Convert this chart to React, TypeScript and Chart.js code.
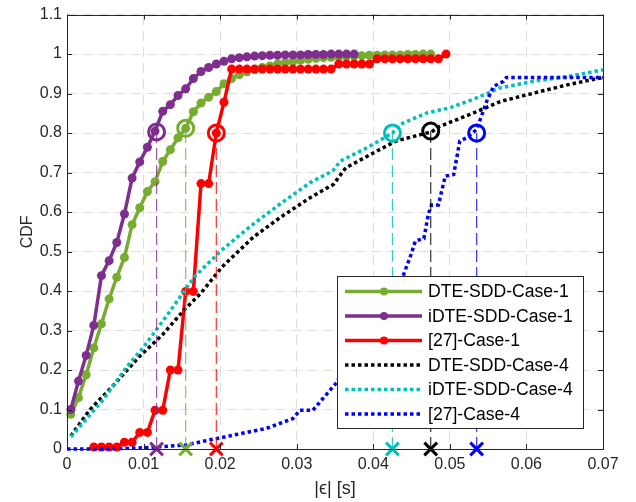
import React, { useEffect, useRef } from 'react';
import { Chart, registerables } from 'chart.js';

Chart.register(...registerables);

// ---------- data ----------
const seriesLabels = [
  'DTE-SDD-Case-1',
  'iDTE-SDD-Case-1',
  '[27]-Case-1',
  'DTE-SDD-Case-4',
  'iDTE-SDD-Case-4',
  '[27]-Case-4',
];
const seriesColors = ['#77AC30', '#7E2F8E', '#FF0000', '#000000', '#00BFBF', '#0000FF'];

const dteCase1X = [
  0.0005, 0.0015, 0.0025, 0.0035, 0.0045, 0.0055, 0.0065, 0.0075, 0.0085, 0.0095,
  0.0105, 0.0115, 0.0125, 0.0135, 0.0145, 0.0155, 0.0165, 0.0175, 0.0185, 0.0195,
  0.0205, 0.0215, 0.0225, 0.0235, 0.0245, 0.0255, 0.0265, 0.0275, 0.0285, 0.0295,
  0.0305, 0.0315, 0.0325, 0.0335, 0.0345, 0.0355, 0.0365, 0.0375, 0.0385, 0.0395,
  0.0405, 0.0415, 0.0425, 0.0435, 0.0445, 0.0455, 0.0465, 0.0475,
];
const dteCase1Y = [
  0.088, 0.130, 0.188, 0.256, 0.317, 0.380, 0.435, 0.485, 0.568, 0.611,
  0.652, 0.677, 0.728, 0.758, 0.788, 0.812, 0.854, 0.876, 0.891, 0.905,
  0.925, 0.938, 0.948, 0.955, 0.961, 0.966, 0.970, 0.975, 0.979, 0.982,
  0.985, 0.987, 0.989, 0.991, 0.992, 0.993, 0.994, 0.995, 0.996, 0.997,
  0.997, 0.998, 0.998, 0.998, 0.999, 0.999, 1.0, 1.0,
];

const idteCase1X = [
  0.0005, 0.0015, 0.0025, 0.0035, 0.0045, 0.0055, 0.0065, 0.0075, 0.0085, 0.0095,
  0.0105, 0.0115, 0.0125, 0.0135, 0.0145, 0.0155, 0.0165, 0.0175, 0.0185, 0.0195,
  0.0205, 0.0215, 0.0225, 0.0235, 0.0245, 0.0255, 0.0265, 0.0275, 0.0285, 0.0295,
  0.0305, 0.0315, 0.0325, 0.0335, 0.0345, 0.0355, 0.0365, 0.0375,
];
const idteCase1Y = [
  0.100, 0.172, 0.237, 0.313, 0.439, 0.477, 0.523, 0.595, 0.686, 0.727,
  0.764, 0.805, 0.855, 0.872, 0.895, 0.912, 0.938, 0.956, 0.966, 0.975,
  0.982, 0.988, 0.991, 0.993, 0.995, 0.996, 0.997, 0.997, 0.998, 0.998,
  0.998, 0.999, 0.999, 0.999, 1.0, 1.0, 1.0, 1.0,
];

const refCase1X = [
  0.0035, 0.0045, 0.0055, 0.0065, 0.0075, 0.0085, 0.0095, 0.0105, 0.0115, 0.0125,
  0.0135, 0.0145, 0.0155, 0.0165, 0.0175, 0.0185, 0.0195, 0.0205, 0.0215, 0.0225,
  0.0235, 0.0245, 0.0255, 0.0265, 0.0275, 0.0285, 0.0295, 0.0305, 0.0315, 0.0325,
  0.0335, 0.0345, 0.0355, 0.0365, 0.0375, 0.0385, 0.0395, 0.0405, 0.0415, 0.0425,
  0.0435, 0.0445, 0.0455, 0.0465, 0.0475, 0.0485, 0.0495,
];
const refCase1Y = [
  0.005, 0.005, 0.005, 0.005, 0.017, 0.017, 0.042, 0.042, 0.098, 0.098,
  0.200, 0.200, 0.399, 0.399, 0.672, 0.672, 0.800, 0.878, 0.962, 0.962,
  0.962, 0.962, 0.962, 0.962, 0.962, 0.962, 0.962, 0.962, 0.962, 0.962,
  0.962, 0.962, 0.975, 0.975, 0.975, 0.975, 0.975, 0.988, 0.988, 0.988,
  0.988, 0.988, 0.988, 0.988, 0.988, 0.988, 1.0,
];

const dteCase4X = [
  0.0005, 0.003, 0.006, 0.0095, 0.0125, 0.0152, 0.0175, 0.0202, 0.0243, 0.0279,
  0.0318, 0.0348, 0.0364, 0.0413, 0.043, 0.0476, 0.0487, 0.0531, 0.0566, 0.0609,
  0.0653, 0.07,
];
const dteCase4Y = [
  0.033, 0.100, 0.160, 0.235, 0.290, 0.350, 0.395, 0.460, 0.536, 0.587,
  0.637, 0.670, 0.712, 0.763, 0.780, 0.803, 0.817, 0.851, 0.880, 0.901,
  0.922, 0.941,
];

const idteCase4X = [
  0.0005, 0.0025, 0.0047, 0.0078, 0.01, 0.0133, 0.0166, 0.02, 0.0222, 0.0243,
  0.0278, 0.0317, 0.0347, 0.0357, 0.0392, 0.0425, 0.0435, 0.047, 0.05, 0.053,
  0.0565, 0.0609, 0.0653, 0.07,
];
const idteCase4Y = [
  0.031, 0.075, 0.124, 0.208, 0.258, 0.345, 0.435, 0.500, 0.536, 0.569,
  0.620, 0.674, 0.704, 0.729, 0.763, 0.800, 0.822, 0.851, 0.864, 0.885,
  0.914, 0.931, 0.943, 0.960,
];

const refCase4X = [
  0, 0.005, 0.01, 0.0155, 0.0174, 0.0217, 0.026, 0.0295, 0.0304, 0.0321,
  0.0352, 0.039, 0.0431, 0.0439, 0.0448, 0.0455, 0.0466, 0.0472, 0.0476, 0.0485,
  0.0494, 0.0505, 0.0513, 0.0522, 0.0535, 0.0548, 0.0557, 0.057, 0.0574, 0.07,
];
const refCase4Y = [
  0, 0.0, 0.003, 0.010, 0.018, 0.035, 0.052, 0.077, 0.098, 0.098,
  0.168, 0.300, 0.420, 0.439, 0.485, 0.527, 0.533, 0.595, 0.618, 0.618,
  0.691, 0.695, 0.780, 0.788, 0.809, 0.880, 0.918, 0.931, 0.941, 0.941,
];

// 80th-percentile markers (x position, circle level) per series
const markerX = [0.0155, 0.0117, 0.0195, 0.0475, 0.0425, 0.0535];
const markerY = [0.812, 0.803, 0.8, 0.805, 0.8, 0.8];

const xTicks = [0, 0.01, 0.02, 0.03, 0.04, 0.05, 0.06, 0.07];
const xTickLabels = ['0', '0.01', '0.02', '0.03', '0.04', '0.05', '0.06', '0.07'];
const yTicks = [0, 0.1, 0.2, 0.3, 0.4, 0.5, 0.6, 0.7, 0.8, 0.9, 1, 1.1];
const yTickLabels = ['0', '0.1', '0.2', '0.3', '0.4', '0.5', '0.6', '0.7', '0.8', '0.9', '1', '1.1'];

// ---------- styling ----------
const FONT = "'Liberation Sans', Arial, Helvetica, sans-serif";
const AXIS_COLOR = '#262626';
const DOT_DASH = [3.5, 3];

function withAlpha(hex: string, a: number) {
  const r = parseInt(hex.slice(1, 3), 16);
  const g = parseInt(hex.slice(3, 5), 16);
  const b = parseInt(hex.slice(5, 7), 16);
  return `rgba(${r},${g},${b},${a})`;
}

const boxPlugin = {
  id: 'matlabBox',
  afterDatasetsDraw(chart: any) {
    const { ctx, chartArea, scales } = chart;
    const { left, right, top, bottom } = chartArea;
    ctx.save();
    ctx.strokeStyle = AXIS_COLOR;
    ctx.lineWidth = 1;
    ctx.setLineDash([]);
    ctx.beginPath();
    const tl = 5;
    for (const v of xTicks) {
      const px = Math.round(scales.x.getPixelForValue(v)) + 0.5;
      ctx.moveTo(px, bottom);
      ctx.lineTo(px, bottom - tl);
      ctx.moveTo(px, top);
      ctx.lineTo(px, top + tl);
    }
    for (const v of yTicks) {
      const py = Math.round(scales.y.getPixelForValue(v)) + 0.5;
      ctx.moveTo(left, py);
      ctx.lineTo(left + tl, py);
      ctx.moveTo(right, py);
      ctx.lineTo(right - tl, py);
    }
    ctx.stroke();
    ctx.strokeRect(Math.round(left) + 0.5, Math.round(top) + 0.5, Math.round(right - left), Math.round(bottom - top));
    ctx.restore();
  },
};

const legendPlugin = {
  id: 'matlabLegend',
  afterDraw(chart: any) {
    const { ctx, chartArea } = chart;
    const w = 246;
    const h = 152;
    const right = chartArea.right - 20;
    const bottom = chartArea.bottom - 21;
    const left = right - w;
    const top = bottom - h;
    ctx.save();
    ctx.fillStyle = '#ffffff';
    ctx.fillRect(left, top, w, h);
    ctx.strokeStyle = AXIS_COLOR;
    ctx.lineWidth = 1;
    ctx.setLineDash([]);
    ctx.strokeRect(Math.round(left) + 0.5, Math.round(top) + 0.5, w, h);
    ctx.font = `17.6px ${FONT}`;
    ctx.textBaseline = 'middle';
    ctx.textAlign = 'left';
    for (let i = 0; i < seriesLabels.length; i++) {
      const cy = top + 15.5 + i * 24.5;
      const color = seriesColors[i];
      ctx.strokeStyle = color;
      ctx.lineCap = 'butt';
      if (i < 3) {
        ctx.lineWidth = 3.5;
        ctx.setLineDash([]);
      } else {
        ctx.lineWidth = 3.5;
        ctx.setLineDash(DOT_DASH);
      }
      ctx.beginPath();
      ctx.moveTo(left + 8, cy);
      ctx.lineTo(left + 85, cy);
      ctx.stroke();
      ctx.setLineDash([]);
      if (i < 3) {
        ctx.fillStyle = color;
        ctx.beginPath();
        ctx.arc(left + 47, cy, 4, 0, Math.PI * 2);
        ctx.fill();
      }
      ctx.fillStyle = '#000000';
      ctx.fillText(seriesLabels[i], left + 91, cy + 1);
    }
    ctx.restore();
  },
};

export default function App() {
  const canvasRef = useRef<HTMLCanvasElement | null>(null);

  useEffect(() => {
    document.body.style.margin = '0';
    const canvas = canvasRef.current;
    if (!canvas) return;

    const xs = [dteCase1X, idteCase1X, refCase1X, dteCase4X, idteCase4X, refCase4X];
    const ys = [dteCase1Y, idteCase1Y, refCase1Y, dteCase4Y, idteCase4Y, refCase4Y];

    const datasets: any[] = [];
    for (let i = 0; i < 6; i++) {
      const solid = i < 3;
      datasets.push({
        type: 'line',
        label: seriesLabels[i],
        data: xs[i].map((x, k) => ({ x, y: ys[i][k] })),
        borderColor: seriesColors[i],
        backgroundColor: seriesColors[i],
        borderWidth: 3.5,
        borderDash: solid ? [] : DOT_DASH,
        borderCapStyle: 'butt',
        pointRadius: solid ? 4.5 : 0,
        pointBorderWidth: 0,
        pointBackgroundColor: seriesColors[i],
        tension: 0,
        fill: false,
        clip: false,
        order: 100 - i,
      });
    }
    for (let i = 0; i < 6; i++) {
      datasets.push({
        type: 'line',
        label: '',
        data: [
          { x: markerX[i], y: 0 },
          { x: markerX[i], y: markerY[i] },
        ],
        borderColor: withAlpha(seriesColors[i], 0.8),
        borderWidth: 1.2,
        borderDash: [12, 5],
        pointStyle: ['crossRot', 'circle'],
        pointRadius: [9, 8],
        pointBorderWidth: [3, 3],
        pointBorderColor: seriesColors[i],
        pointBackgroundColor: 'rgba(0,0,0,0)',
        fill: false,
        clip: false,
        order: 10 - i,
      });
    }

    const chart = new Chart(canvas, {
      type: 'line',
      data: { datasets },
      options: {
        animation: false,
        responsive: false,
        devicePixelRatio: 1,
        events: [],
        layout: { padding: { top: 13, right: 33, left: 0, bottom: 0 } },
        plugins: {
          legend: { display: false },
          tooltip: { enabled: false },
        },
        scales: {
          x: {
            type: 'linear',
            min: 0,
            max: 0.07,
            afterFit: (s: any) => {
              s.height = 53;
            },
            afterBuildTicks: (s: any) => {
              s.ticks = xTicks.map((v) => ({ value: v }));
            },
            ticks: {
              callback: (_v: any, idx: number) => xTickLabels[idx],
              font: { family: FONT, size: 16 },
              color: AXIS_COLOR,
              padding: 6,
              maxRotation: 0,
              autoSkip: false,
            },
            grid: { color: '#dedede', lineWidth: 1, drawTicks: false },
            border: { display: false, dash: [10, 6] },
            title: {
              display: true,
              text: '|ϵ| [s]',
              font: { family: FONT, size: 18 },
              color: AXIS_COLOR,
              padding: { top: 0, bottom: 2 },
            },
          },
          y: {
            type: 'linear',
            min: 0,
            max: 1.1,
            afterFit: (s: any) => {
              s.width = 67;
            },
            afterBuildTicks: (s: any) => {
              s.ticks = yTicks.map((v) => ({ value: v }));
            },
            ticks: {
              callback: (_v: any, idx: number) => yTickLabels[idx],
              font: { family: FONT, size: 16 },
              color: AXIS_COLOR,
              padding: 5,
              autoSkip: false,
            },
            grid: { color: '#dedede', lineWidth: 1, drawTicks: false },
            border: { display: false, dash: [10, 6] },
            title: {
              display: true,
              text: 'CDF',
              font: { family: FONT, size: 16 },
              color: AXIS_COLOR,
              padding: { top: 18, bottom: 0 },
            },
          },
        },
      },
      plugins: [boxPlugin, legendPlugin],
    } as any);

    return () => {
      chart.destroy();
    };
  }, []);

  return (
    <div style={{ width: 636, height: 502, background: '#ffffff' }}>
      <canvas ref={canvasRef} width={636} height={502} style={{ display: 'block' }} />
    </div>
  );
}
